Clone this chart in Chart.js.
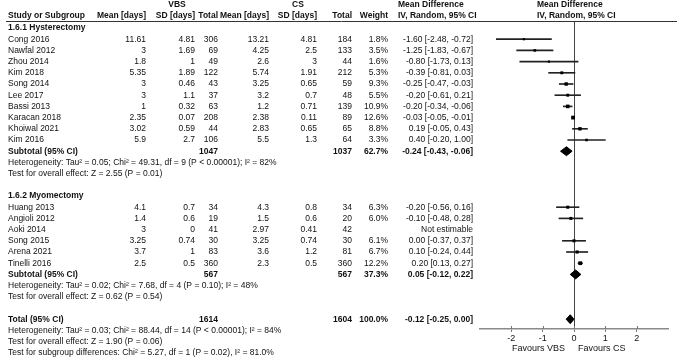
<!DOCTYPE html>
<html><head><meta charset="utf-8">
<script src="https://cdn.jsdelivr.net/npm/chart.js@4.4.0/dist/chart.umd.min.js"></script>
<style>html,body{margin:0;padding:0;background:#fff}canvas{display:block}</style>
</head><body>
<canvas id="c" width="677" height="359"></canvas>
<script>
// ---------- data ----------
const hystStudies = ['Cong 2016','Nawfal 2012','Zhou 2014','Kim 2018','Song 2014','Lee 2017','Bassi 2013','Karacan 2018','Khoiwal 2021','Kim 2016'];
const hystVbsMean = [11.61,3,1.8,5.35,3,3,1,2.35,3.02,5.9];
const hystVbsSD   = [4.81,1.69,1,1.89,0.46,1.1,0.32,0.07,0.59,2.7];
const hystVbsN    = [306,69,49,122,43,37,63,208,44,106];
const hystCsMean  = [13.21,4.25,2.6,5.74,3.25,3.2,1.2,2.38,2.83,5.5];
const hystCsSD    = [4.81,2.5,3,1.91,0.65,0.7,0.71,0.11,0.65,1.3];
const hystCsN     = [184,133,44,212,59,48,139,89,65,64];
const hystWeight  = [1.8,3.5,1.6,5.3,9.3,5.5,10.9,12.6,8.8,3.3];
const hystMD      = [-1.60,-1.25,-0.80,-0.39,-0.25,-0.20,-0.20,-0.03,0.19,0.40];
const hystLo      = [-2.48,-1.83,-1.73,-0.81,-0.47,-0.61,-0.34,-0.05,-0.05,-0.20];
const hystHi      = [-0.72,-0.67,0.13,0.03,-0.03,0.21,-0.06,-0.01,0.43,1.00];
const hystSubtotal = {vbsN:1047, csN:1037, weight:62.7, md:-0.24, lo:-0.43, hi:-0.06};
const hystHet  = 'Heterogeneity: Tau² = 0.05; Chi² = 49.31, df = 9 (P < 0.00001); I² = 82%';
const hystTest = 'Test for overall effect: Z = 2.55 (P = 0.01)';

const myoStudies = ['Huang 2013','Angioli 2012','Aoki 2014','Song 2015','Arena 2021','Tinelli 2016'];
const myoVbsMean = [4.1,1.4,3,3.25,3.7,2.5];
const myoVbsSD   = [0.7,0.6,0,0.74,1,0.5];
const myoVbsN    = [34,19,41,30,83,360];
const myoCsMean  = [4.3,1.5,2.97,3.25,3.6,2.3];
const myoCsSD    = [0.8,0.6,0.41,0.74,1.2,0.5];
const myoCsN     = [34,20,42,30,81,360];
const myoWeight  = [6.3,6.0,null,6.1,6.7,12.2];
const myoMD      = [-0.20,-0.10,null,0.00,0.10,0.20];
const myoLo      = [-0.56,-0.48,null,-0.37,-0.24,0.13];
const myoHi      = [0.16,0.28,null,0.37,0.44,0.27];
const myoSubtotal = {vbsN:567, csN:567, weight:37.3, md:0.05, lo:-0.12, hi:0.22};
const myoHet  = 'Heterogeneity: Tau² = 0.02; Chi² = 7.68, df = 4 (P = 0.10); I² = 48%';
const myoTest = 'Test for overall effect: Z = 0.62 (P = 0.54)';

const overall = {vbsN:1614, csN:1604, weight:100.0, md:-0.12, lo:-0.25, hi:0.00};
const totalLines = [
  'Heterogeneity: Tau² = 0.03; Chi² = 88.44, df = 14 (P < 0.00001); I² = 84%',
  'Test for overall effect: Z = 1.90 (P = 0.06)',
  'Test for subgroup differences: Chi² = 5.27, df = 1 (P = 0.02), I² = 81.0%'
];
const xTicks = [-2,-1,0,1,2];
const favourLeft = 'Favours VBS';
const favourRight = 'Favours CS';

// ---------- row layout (row index on the y scale) ----------
const G1_HEAD = 0, G1_START = 1;
const G1_SUB = G1_START + hystStudies.length;
const G2_HEAD = G1_SUB + 4, G2_START = G2_HEAD + 1;
const G2_SUB = G2_START + myoStudies.length;
const TOT = G2_SUB + 4;

function fmt(v){ return (v < 0 ? '-' : '') + Math.abs(v).toFixed(2); }
function ciText(md, lo, hi){ return fmt(md) + ' [' + fmt(lo) + ', ' + fmt(hi) + ']'; }
function sqR(w){ return 0.9 + Math.sqrt(w) * 0.5; }

const ciData = [], sqData = [], sqRad = [];
function addGroup(start, md, lo, hi, wt){
  md.forEach((m, i) => {
    if (m === null) return;
    ciData.push({x:[lo[i], hi[i]], y:start + i});
    sqData.push({x:m, y:start + i});
    sqRad.push(sqR(wt[i]));
  });
}
addGroup(G1_START, hystMD, hystLo, hystHi, hystWeight);
addGroup(G2_START, myoMD, myoLo, myoHi, myoWeight);

function diamond(s, k){
  const h = 0.4;
  return [{x:s.lo,y:k},{x:s.md,y:k-h},{x:s.hi,y:k},{x:s.md,y:k+h},{x:s.lo,y:k}];
}
function diamondSet(s, k){
  return {type:'scatter', data:diamond(s,k), showLine:true, fill:'shape', tension:0,
    backgroundColor:'#000', borderColor:'#000', borderWidth:1, pointRadius:0, order:0};
}

const FONT = '"Liberation Sans", Arial, Helvetica, sans-serif';
Chart.defaults.font.family = FONT;

// ---------- table text plugin ----------
const tablePlugin = {
  id:'table',
  afterDraw(chart){
    const ctx = chart.ctx, yS = chart.scales.y, xS = chart.scales.x;
    const Y = k => yS.getPixelForValue(k);
    const FS = 8.5;
    function t(str, x, y, align, bold){
      ctx.font = (bold ? 'bold ' : '') + FS + 'px ' + FONT;
      ctx.textAlign = align || 'left';
      ctx.textBaseline = 'middle';
      ctx.fillStyle = '#111';
      ctx.fillText(str, x, y);
    }
    const C = {name:8, vm:146, vs:195, vn:218, cm:269, cs:317, cn:352, w:388, md:473, mdHead:398, plotHead:537};
    ctx.save();
    // header line
    ctx.strokeStyle = '#333'; ctx.lineWidth = 1;
    ctx.beginPath(); ctx.moveTo(6, chart.chartArea.top + 0.5); ctx.lineTo(677, chart.chartArea.top + 0.5); ctx.stroke();
    // upper half of the axis tick marks
    const ab = chart.chartArea.bottom;
    ctx.strokeStyle = '#777'; ctx.lineWidth = 1;
    xTicks.forEach(v => {
      const px = Math.round(xS.getPixelForValue(v)) + 0.5;
      ctx.beginPath(); ctx.moveTo(px, ab - 3); ctx.lineTo(px, ab); ctx.stroke();
    });
    // headers
    const y0 = 5, y1 = 16;
    t('VBS', 177, y0, 'center', true);
    t('CS', 298, y0, 'center', true);
    t('Mean Difference', C.mdHead, y0, 'left', true);
    t('Mean Difference', C.plotHead, y0, 'left', true);
    t('Study or Subgroup', C.name, y1, 'left', true);
    t('Mean [days]', C.vm, y1, 'right', true);
    t('SD [days]', C.vs, y1, 'right', true);
    t('Total', C.vn, y1, 'right', true);
    t('Mean [days]', C.cm, y1, 'right', true);
    t('SD [days]', C.cs, y1, 'right', true);
    t('Total', C.cn, y1, 'right', true);
    t('Weight', C.w, y1, 'right', true);
    t('IV, Random, 95% CI', C.mdHead, y1, 'left', true);
    t('IV, Random, 95% CI', C.plotHead, y1, 'left', true);

    function group(head, hk, start, names, vm, vs, vn, cm, cs, cn, wt, md, lo, hi, sub, het, test){
      t(head, C.name, Y(hk), 'left', true);
      names.forEach((n, i) => {
        const y = Y(start + i);
        t(n, C.name, y, 'left');
        t(String(vm[i]), C.vm, y, 'right');
        t(String(vs[i]), C.vs, y, 'right');
        t(String(vn[i]), C.vn, y, 'right');
        t(String(cm[i]), C.cm, y, 'right');
        t(String(cs[i]), C.cs, y, 'right');
        t(String(cn[i]), C.cn, y, 'right');
        if (md[i] === null) {
          t('Not estimable', C.md, y, 'right');
        } else {
          t(wt[i].toFixed(1) + '%', C.w, y, 'right');
          t(ciText(md[i], lo[i], hi[i]), C.md, y, 'right');
        }
      });
      const sk = start + names.length;
      t('Subtotal (95% CI)', C.name, Y(sk), 'left', true);
      t(String(sub.vbsN), C.vn, Y(sk), 'right', true);
      t(String(sub.csN), C.cn, Y(sk), 'right', true);
      t(sub.weight.toFixed(1) + '%', C.w, Y(sk), 'right', true);
      t(ciText(sub.md, sub.lo, sub.hi), C.md, Y(sk), 'right', true);
      t(het, C.name, Y(sk + 1), 'left');
      t(test, C.name, Y(sk + 2), 'left');
    }
    group('1.6.1 Hysterectomy', G1_HEAD, G1_START, hystStudies, hystVbsMean, hystVbsSD, hystVbsN,
      hystCsMean, hystCsSD, hystCsN, hystWeight, hystMD, hystLo, hystHi, hystSubtotal, hystHet, hystTest);
    group('1.6.2 Myomectomy', G2_HEAD, G2_START, myoStudies, myoVbsMean, myoVbsSD, myoVbsN,
      myoCsMean, myoCsSD, myoCsN, myoWeight, myoMD, myoLo, myoHi, myoSubtotal, myoHet, myoTest);

    t('Total (95% CI)', C.name, Y(TOT), 'left', true);
    t(String(overall.vbsN), C.vn, Y(TOT), 'right', true);
    t(String(overall.csN), C.cn, Y(TOT), 'right', true);
    t(overall.weight.toFixed(1) + '%', C.w, Y(TOT), 'right', true);
    t(ciText(overall.md, overall.lo, overall.hi), C.md, Y(TOT), 'right', true);
    totalLines.forEach((s, i) => t(s, C.name, Y(TOT + 1 + i), 'left'));

    // favours labels
    const xc = xS.getPixelForValue(0);
    ctx.font = '9px ' + FONT; ctx.fillStyle = '#111'; ctx.textBaseline = 'middle';
    ctx.textAlign = 'right'; ctx.fillText(favourLeft, xc - 9, 349);
    ctx.textAlign = 'left'; ctx.fillText(favourRight, xc + 4, 349);
    ctx.restore();
  }
};

new Chart(document.getElementById('c'), {
  type:'scatter',
  data:{
    datasets:[
      {type:'scatter', data:sqData, pointStyle:'rect', pointRadius:sqRad, pointHoverRadius:sqRad,
        backgroundColor:'#000', borderWidth:0, order:0},
      diamondSet(hystSubtotal, G1_SUB),
      diamondSet(myoSubtotal, G2_SUB),
      diamondSet(overall, TOT),
      {type:'bar', indexAxis:'y', data:ciData, backgroundColor:'#222', borderWidth:0,
        barThickness:1, order:2}
    ]
  },
  options:{
    responsive:false, animation:false, events:[],
    layout:{padding:{left:480, right:9, top:21, bottom:0}},
    plugins:{legend:{display:false}, tooltip:{enabled:false}},
    scales:{
      x:{type:'linear', min:-3, max:3, offset:false,
        afterBuildTicks: s => { s.ticks = xTicks.map(v => ({value:v})); },
        afterFit: s => { s.height = 30; },
        ticks:{font:{size:9, family:FONT}, color:'#111', padding:1, maxRotation:0, autoSkip:false,
          callback: v => String(v)},
        grid:{offset:false, drawOnChartArea:true, lineWidth:1,
          color: c => (c.tick && c.tick.value === 0) ? '#444' : 'rgba(0,0,0,0)',
          tickColor:'#777', tickLength:3},
        border:{display:true, color:'#8a8a8a', width:1.5}
      },
      y:{type:'linear', display:false, min:-0.625, max:26.875, reverse:true, offset:false}
    }
  },
  plugins:[tablePlugin]
});
</script>
</body></html>
